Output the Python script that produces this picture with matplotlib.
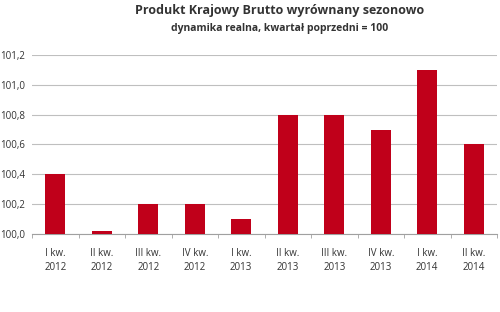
import matplotlib
matplotlib.use("Agg")
import matplotlib.pyplot as plt
import numpy as np

categories = ["I kw.\n2012", "II kw.\n2012", "III kw.\n2012", "IV kw.\n2012", "I kw.\n2013",
              "II kw.\n2013", "III kw.\n2013", "IV kw.\n2013", "I kw.\n2014", "II kw.\n2014"]
values = [100.4, 100.02, 100.2, 100.2, 100.1, 100.8, 100.8, 100.7, 101.1, 100.6]
yticks = [100.0, 100.2, 100.4, 100.6, 100.8, 101.0, 101.2]
title = "Produkt Krajowy Brutto wyrównany sezonowo"
subtitle = "dynamika realna, kwartał poprzedni = 100"

plt.rcParams['font.family'] = ['Open Sans', 'DejaVu Sans']

fig = plt.figure(figsize=(5, 3.12), dpi=100)
ax = fig.add_axes([0.064, 0.25, 0.93, 0.574])

x = np.arange(len(categories))
base = 100.0
ax.bar(x, np.array(values) - base, bottom=base, width=0.43, color="#C0001A", zorder=3)

ax.set_xlim(-0.5, len(categories) - 0.5)
ax.set_ylim(100.0, 101.2)
ax.set_yticks(yticks)
ax.set_yticklabels([f"{v:.1f}".replace(".", ",") for v in yticks], fontsize=7, color="#333333")
ax.yaxis.grid(True, color="#BFBFBF", linewidth=0.8, zorder=0)
ax.tick_params(axis='y', length=0, pad=5)

ax.set_xticks(x)
ax.set_xticklabels(categories, fontsize=7, color="#333333", linespacing=1.45)
ax.tick_params(axis='x', length=0, pad=10)
ax.set_xticks(np.arange(-0.5, len(categories)), minor=True)
ax.tick_params(axis='x', which='minor', length=3, color="#A0A0A0", direction='out')

for s in ["top", "right", "left"]:
    ax.spines[s].set_visible(False)
ax.spines["bottom"].set_color("#A0A0A0")

fig.text(0.56, 0.965, title, ha="center", va="center", fontsize=9, fontweight="bold", color="#333333")
fig.text(0.56, 0.91, subtitle, ha="center", va="center", fontsize=7.5, fontweight="bold", color="#333333")

fig.savefig("out.png", dpi=100)
